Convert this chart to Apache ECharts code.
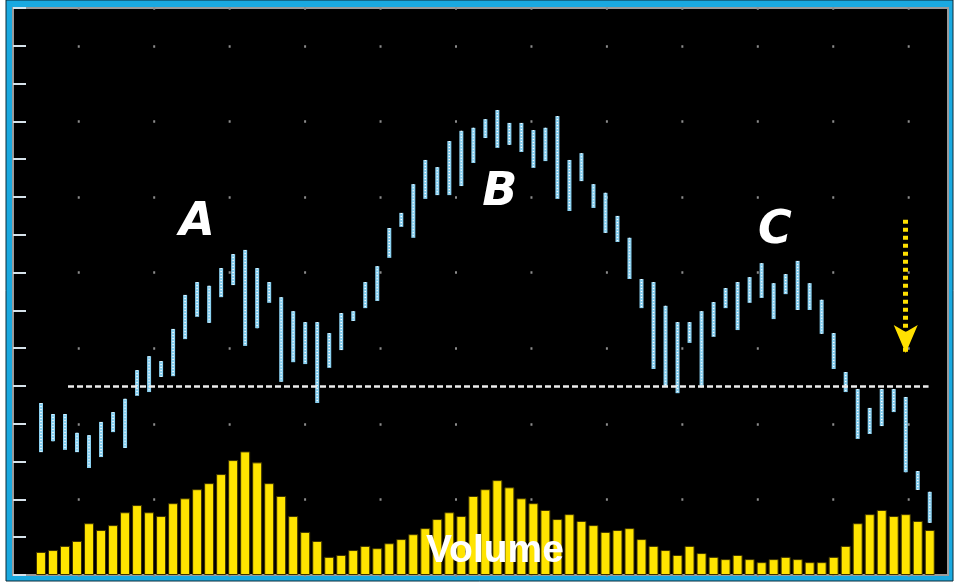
<!DOCTYPE html>
<html>
<head>
<meta charset="utf-8">
<script src="https://cdn.jsdelivr.net/npm/echarts@6/dist/echarts.min.js"></script>
<style>
  html, body { margin: 0; padding: 0; background: #fff; }
  #chart { width: 954px; height: 585px; }
</style>
</head>
<body>
<div id="chart"></div>
<script>
// price bars: one high/low pair per session
const highs = [4.55, 4.26, 4.26, 3.76, 3.70, 4.05, 4.31, 4.66, 5.42, 5.79,
  5.66, 6.51, 7.41, 7.75, 7.65, 8.12, 8.49, 8.60, 8.12, 7.75,
  7.35, 6.98, 6.69, 6.69, 6.40, 6.93, 6.98, 7.75, 8.17, 9.18,
  9.58, 10.34, 10.98, 10.79, 11.48, 11.75, 11.83, 12.06, 12.30, 11.96,
  11.96, 11.77, 11.83, 12.14, 10.98, 11.16, 10.34, 10.11, 9.50, 8.92,
  7.83, 7.75, 7.12, 6.69, 6.69, 6.98, 7.22, 7.59, 7.75, 7.88,
  8.25, 7.72, 7.96, 8.31, 7.72, 7.28, 6.40, 5.37, 4.92, 4.42,
  4.92, 4.92, 4.71, 2.75, 2.20]
const lows = [3.25, 3.54, 3.31, 3.25, 2.83, 3.12, 3.78, 3.36, 4.74, 4.84,
  5.24, 5.26, 6.24, 6.83, 6.67, 7.35, 7.67, 6.06, 6.53, 7.20,
  5.11, 5.63, 5.58, 4.55, 5.48, 5.95, 6.72, 7.06, 7.25, 8.39,
  9.21, 8.92, 9.95, 10.05, 10.05, 10.29, 10.90, 11.56, 11.30, 11.38,
  11.19, 10.77, 10.95, 9.95, 9.63, 10.42, 9.71, 9.05, 8.81, 7.83,
  7.06, 5.45, 5.00, 4.81, 6.14, 4.97, 6.30, 7.06, 6.48, 7.20,
  7.33, 6.77, 7.43, 7.01, 7.01, 6.38, 5.45, 4.84, 3.60, 3.73,
  3.94, 4.31, 2.72, 2.25, 1.38]
const volumes = [6.1, 6.6, 7.7, 9.0, 13.7, 11.9, 13.2, 16.6, 18.5, 16.6,
  15.6, 19.0, 20.3, 22.7, 24.3, 26.7, 30.4, 32.7, 29.8, 24.3,
  20.9, 15.6, 11.4, 9.0, 4.8, 5.3, 6.6, 7.7, 7.1, 8.4,
  9.5, 10.8, 12.4, 14.8, 16.6, 15.6, 20.9, 22.7, 25.1, 23.2,
  20.3, 19.0, 17.2, 14.8, 16.1, 14.3, 13.2, 11.4, 11.9, 12.4,
  9.5, 7.7, 6.6, 5.3, 7.7, 5.8, 4.8, 4.2, 5.3, 4.2,
  3.4, 4.2, 4.8, 4.2, 3.4, 3.4, 4.8, 7.7, 13.7, 16.1,
  17.2, 15.6, 16.1, 14.3, 11.9]

// annotations (session index, price)
const neckline = 5
const necklineFrom = 2.25
const necklineTo = 73.9
const peakLabels = [
  { name: 'A', x: 13.0, y: 9.3 },
  { name: 'B', x: 38.2, y: 10.1 },
  { name: 'C', x: 61.1, y: 9.1 }
]
const arrowX = 72
const arrowFrom = 9.4
const arrowTo = 5.87
const volumeLabel = { name: 'Volume', x: 37.8, y: 0.62 }

const priceData = highs.map((h, i) => [i, lows[i], h])
const volumeData = volumes.map((v, i) => [i, v])

const chart = echarts.init(document.getElementById('chart'))

const renderPriceBar = (params, api) => {
  const top = api.coord([api.value(0), api.value(2)])
  const bot = api.coord([api.value(0), api.value(1)])
  return {
    type: 'group',
    children: [
      {
        type: 'rect',
        shape: { x: top[0] - 2, y: top[1], width: 4, height: bot[1] - top[1] },
        style: { fill: '#8ad0f0' }
      },
      {
        type: 'line',
        shape: { x1: top[0], y1: top[1], x2: top[0], y2: bot[1] },
        style: { stroke: '#ffffff', lineWidth: 1.4, lineDash: [1, 2] }
      }
    ]
  }
}

const option = {
  backgroundColor: '#fff',
  animation: false,
  graphic: [
    {
      type: 'rect',
      z: -1,
      shape: { x: 6, y: 0, width: 947, height: 581 },
      style: { fill: '#1aa9e0', stroke: '#0b2a38', lineWidth: 1 }
    }
  ],
  grid: {
    left: 13,
    right: 6,
    top: 8,
    bottom: 10,
    show: true,
    backgroundColor: '#000',
    borderColor: '#9a9a9a',
    borderWidth: 2
  },
  xAxis: {
    type: 'value',
    min: -2.33,
    max: 75.52,
    show: false
  },
  yAxis: [
    {
      type: 'value',
      min: 0,
      max: 15,
      interval: 1,
      position: 'left',
      axisLine: { show: false, onZero: false },
      axisLabel: { show: false },
      axisTick: { show: true, inside: true, length: 13, lineStyle: { color: '#d6e2ea', width: 2 } },
      splitLine: { show: false }
    },
    {
      // volume scale, its split lines give the dotted grid
      type: 'value',
      min: 0,
      max: 150,
      interval: 20,
      axisLine: { show: false, onZero: false },
      axisLabel: { show: false },
      axisTick: { show: false },
      splitLine: {
        show: true,
        lineStyle: { color: '#8c8c8c', width: 2.5, type: [2, 73.45], dashOffset: 10.7 }
      }
    }
  ],
  series: [
    {
      name: 'Volume',
      type: 'bar',
      yAxisIndex: 1,
      barWidth: 10,
      data: volumeData,
      itemStyle: { color: '#ffe400', borderColor: '#3c3200', borderWidth: 1 }
    },
    {
      name: 'Price',
      type: 'custom',
      yAxisIndex: 0,
      renderItem: renderPriceBar,
      encode: { x: 0, y: [1, 2] },
      data: priceData
    },
    {
      name: 'Notes',
      type: 'line',
      yAxisIndex: 0,
      z: 10,
      data: [],
      markLine: {
        silent: true,
        label: { show: false },
        data: [
          [
            { coord: [necklineFrom, neckline], symbol: 'none', lineStyle: { color: '#ececec', width: 2.5, type: [6, 3] } },
            { coord: [necklineTo, neckline], symbol: 'none' }
          ],
          [
            { coord: [arrowX, arrowFrom], symbol: 'none', lineStyle: { color: '#ffe000', width: 5, type: [4, 4] } },
            { coord: [arrowX, arrowTo], symbol: 'arrow', symbolSize: [18, 28] }
          ]
        ]
      },
      markPoint: {
        silent: true,
        symbol: 'circle',
        symbolSize: 1,
        itemStyle: { color: 'rgba(0,0,0,0)' },
        data: peakLabels.map(p => ({
          coord: [p.x, p.y],
          label: {
            show: true,
            position: 'inside',
            formatter: p.name,
            color: '#fff',
            fontSize: 46,
            fontStyle: 'italic',
            fontWeight: 'bold',
            fontFamily: 'DejaVu Sans'
          }
        })).concat([{
          coord: [volumeLabel.x, volumeLabel.y],
          label: {
            show: true,
            position: 'inside',
            formatter: volumeLabel.name,
            color: '#fff',
            fontSize: 39,
            fontWeight: 'bold',
            fontFamily: 'Liberation Sans'
          }
        }])
      }
    }
  ]
}

chart.setOption(option)
</script>
</body>
</html>
